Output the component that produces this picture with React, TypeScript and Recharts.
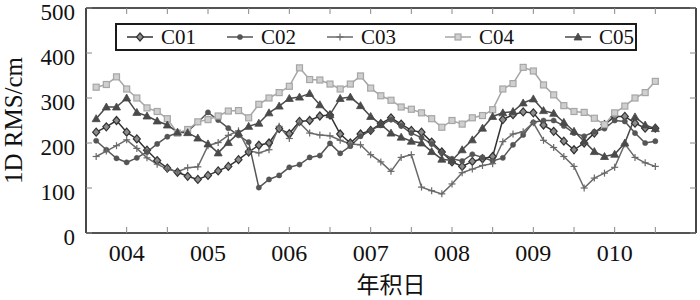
import React from 'react';
import { LineChart, Line, XAxis, YAxis, Legend } from 'recharts';

// Day of year (3-hour steps)
const days = [3.625, 3.75, 3.875, 4, 4.125, 4.25, 4.375, 4.5, 4.625, 4.75, 4.875, 5, 5.125, 5.25, 5.375, 5.5, 5.625, 5.75, 5.875, 6, 6.125, 6.25, 6.375, 6.5, 6.625, 6.75, 6.875, 7, 7.125, 7.25, 7.375, 7.5, 7.625, 7.75, 7.875, 8, 8.125, 8.25, 8.375, 8.5, 8.625, 8.75, 8.875, 9, 9.125, 9.25, 9.375, 9.5, 9.625, 9.75, 9.875, 10, 10.125, 10.25, 10.375, 10.5];

const c01 = [224, 236, 250, 224, 209, 184, 161, 144, 135, 126, 119, 128, 138, 148, 163, 180, 195, 200, 232, 221, 248, 250, 260, 262, 220, 200, 220, 228, 243, 256, 242, 228, 224, 202, 180, 158, 148, 159, 165, 170, 252, 263, 269, 267, 240, 226, 204, 185, 200, 222, 241, 259, 259, 244, 233, 233];
const c02 = [205, 185, 166, 157, 167, 180, 198, 214, 223, 226, 246, 268, 251, 233, 217, 202, 101, 119, 128, 146, 152, 168, 172, 199, 177, 193, 215, 228, 240, 252, 238, 222, 212, 198, 178, 165, 160, 175, 168, 160, 167, 196, 218, 246, 250, 250, 238, 222, 215, 225, 232, 250, 248, 222, 200, 204];
const c03 = [170, 182, 194, 207, 188, 167, 153, 142, 136, 145, 147, 194, 201, 217, 227, 183, 178, 185, 237, 210, 245, 222, 218, 216, 206, 198, 196, 174, 158, 137, 168, 174, 102, 94, 87, 109, 134, 142, 150, 154, 203, 220, 225, 245, 206, 190, 170, 148, 100, 122, 133, 146, 198, 168, 156, 148];
const c04 = [324, 330, 347, 320, 300, 278, 270, 254, 222, 230, 247, 252, 260, 271, 272, 256, 286, 300, 312, 326, 367, 341, 340, 331, 320, 331, 349, 322, 305, 295, 280, 275, 267, 254, 235, 250, 242, 256, 261, 274, 320, 332, 368, 360, 329, 307, 283, 270, 268, 255, 241, 267, 282, 300, 312, 337];
const c05 = [254, 280, 280, 300, 268, 260, 249, 240, 224, 223, 211, 198, 178, 201, 222, 237, 244, 267, 282, 299, 302, 310, 285, 263, 299, 302, 283, 259, 241, 222, 213, 204, 200, 181, 164, 161, 185, 207, 233, 259, 267, 270, 289, 298, 272, 266, 246, 226, 204, 181, 170, 175, 200, 258, 240, 232];

const xTicks = [4, 4.5, 5, 5.5, 6, 6.5, 7, 7.5, 8, 8.5, 9, 9.5, 10, 10.5];
const xLabelDays = [4, 5, 6, 7, 8, 9, 10];
const xLabels = ['004', '005', '006', '007', '008', '009', '010'];
const yTicks = [0, 100, 200, 300, 400, 500];

const seriesNames = ['C01', 'C02', 'C03', 'C04', 'C05'];
const seriesShapes = ['diamond', 'circle', 'plus', 'square', 'triangle'];
const seriesColors = ['#333333', '#555555', '#6a6a6a', '#a6a6a6', '#4a4a4a'];

const data = days.map((d, i) => ({ d, C01: c01[i], C02: c02[i], C03: c03[i], C04: c04[i], C05: c05[i] }));

const SERIF = '"Liberation Serif", "Times New Roman", serif';

function Marker({ shape, cx, cy, color }: any) {
  if (cx == null || cy == null) return null;
  switch (shape) {
    case 'diamond':
      return <path d={`M${cx},${cy - 4}L${cx + 3.5},${cy}L${cx},${cy + 4}L${cx - 3.5},${cy}Z`} fill="#8c8c8c" stroke={color} strokeWidth={1.2} />;
    case 'circle':
      return <circle cx={cx} cy={cy} r={2.6} fill={color} stroke={color} strokeWidth={0.5} />;
    case 'plus':
      return (
        <g>
          <line x1={cx - 3.5} y1={cy} x2={cx + 3.5} y2={cy} stroke={color} strokeWidth={1.2} />
          <line x1={cx} y1={cy - 3.5} x2={cx} y2={cy + 3.5} stroke={color} strokeWidth={1.2} />
        </g>
      );
    case 'square':
      return <rect x={cx - 3} y={cy - 3} width={6} height={6} fill="#cfcfcf" stroke={color} strokeWidth={1.2} />;
    case 'triangle':
      return <path d={`M${cx},${cy - 4}L${cx + 4},${cy + 3}L${cx - 4},${cy + 3}Z`} fill={color} stroke={color} strokeWidth={0.8} />;
    default:
      return null;
  }
}

const BottomTick = (props: any) => {
  const { x, y, payload } = props;
  const idx = xLabelDays.indexOf(payload.value);
  return (
    <g>
      <line x1={x} y1={y} x2={x} y2={y - 6} stroke="#888" strokeWidth={1} />
      {idx >= 0 && (
        <text x={x} y={y + 28} textAnchor="middle" fontSize={24} fontFamily={SERIF} fill="#111">
          {xLabels[idx]}
        </text>
      )}
    </g>
  );
};

const TopTick = (props: any) => {
  const { x, y } = props;
  return <line x1={x} y1={y} x2={x} y2={y + 6} stroke="#888" strokeWidth={1} />;
};

const LeftTick = (props: any) => {
  const { x, y, payload } = props;
  return (
    <g>
      <line x1={x} y1={y} x2={x + 6} y2={y} stroke="#888" strokeWidth={1} />
      <text x={x - 11} y={y + 12} textAnchor="end" fontSize={23} fontFamily={SERIF} fill="#111">
        {payload.value}
      </text>
    </g>
  );
};

const RightTick = (props: any) => {
  const { x, y } = props;
  return <line x1={x} y1={y} x2={x - 6} y2={y} stroke="#888" strokeWidth={1} />;
};

const legendLefts = [10, 110, 210, 328, 448];

const renderLegend = () => (
  <div
    style={{
      position: 'relative',
      width: 522,
      height: 28,
      border: '2px solid #1a1a1a',
      boxSizing: 'border-box',
      background: '#fff',
    }}
  >
    {seriesNames.map((name, i) => (
      <div
        key={name}
        style={{ position: 'absolute', left: legendLefts[i], top: 0, height: 24, display: 'flex', alignItems: 'center' }}
      >
        <svg width={26} height={12} style={{ display: 'block' }}>
          <line x1={0} y1={6} x2={26} y2={6} stroke={seriesColors[i]} strokeWidth={1.5} />
          <Marker shape={seriesShapes[i]} cx={13} cy={6} color={seriesColors[i]} />
        </svg>
        <span style={{ marginLeft: 8, fontFamily: SERIF, fontSize: 21, color: '#111', lineHeight: '24px' }}>{name}</span>
      </div>
    ))}
  </div>
);

const YTitle = (props: any) => {
  const vb = props.viewBox || {};
  const cy = (vb.y || 0) + (vb.height || 0) / 2;
  const cx = 22;
  return (
    <text x={cx} y={cy} transform={`rotate(-90 ${cx} ${cy})`} textAnchor="middle" fontSize={25} fontFamily={SERIF} fill="#111">
      1D RMS/cm
    </text>
  );
};

export default function App() {
  return (
    <div style={{ position: 'absolute', left: 0, top: 0, width: 700, height: 300, background: '#fff' }}>
      <LineChart width={700} height={300} data={data} margin={{ top: 7, right: 3, bottom: 0, left: 0 }}>
        <XAxis
          xAxisId="b"
          dataKey="d"
          type="number"
          domain={[3.5, 11]}
          allowDataOverflow
          ticks={xTicks}
          interval={0}
          height={67}
          tickSize={0}
          tickMargin={0}
          tickLine={false}
          axisLine={{ stroke: '#1a1a1a', strokeWidth: 1.6 }}
          tick={<BottomTick />}
          label={{ value: '年积日', position: 'insideBottom', offset: 7, fontSize: 23, fill: '#111', fontFamily: '"Noto Sans CJK SC", sans-serif' }}
        />
        <XAxis
          xAxisId="t"
          orientation="top"
          dataKey="d"
          type="number"
          domain={[3.5, 11]}
          allowDataOverflow
          ticks={xTicks}
          interval={0}
          height={1}
          tickSize={0}
          tickMargin={0}
          tickLine={false}
          axisLine={{ stroke: '#1a1a1a', strokeWidth: 1.6 }}
          tick={<TopTick />}
        />
        <YAxis
          yAxisId="l"
          type="number"
          domain={[0, 500]}
          ticks={yTicks}
          interval={0}
          width={86}
          tickSize={0}
          tickMargin={0}
          tickLine={false}
          axisLine={{ stroke: '#1a1a1a', strokeWidth: 1.6 }}
          tick={<LeftTick />}
          label={<YTitle />}
        />
        <YAxis
          yAxisId="r"
          orientation="right"
          type="number"
          domain={[0, 500]}
          ticks={yTicks}
          interval={0}
          width={1}
          tickSize={0}
          tickMargin={0}
          tickLine={false}
          axisLine={{ stroke: '#1a1a1a', strokeWidth: 1.6 }}
          tick={<RightTick />}
        />
        <Legend
          layout="horizontal"
          verticalAlign="middle"
          align="center"
          wrapperStyle={{ left: 115, top: 23, width: 522, height: 28 }}
          content={renderLegend}
        />
        {seriesNames.map((name, i) => (
          <Line
            key={name}
            xAxisId="b"
            yAxisId="l"
            type="linear"
            dataKey={name}
            name={name}
            stroke={seriesColors[i]}
            strokeWidth={1.5}
            isAnimationActive={false}
            dot={(p: any) => (
              <Marker key={`${name}-${p.index}`} shape={seriesShapes[i]} cx={p.cx} cy={p.cy} color={seriesColors[i]} />
            )}
            activeDot={false}
          />
        ))}
        <Line
          xAxisId="t"
          yAxisId="r"
          type="linear"
          dataKey="C04"
          stroke="none"
          strokeWidth={0}
          dot={false}
          activeDot={false}
          legendType="none"
          isAnimationActive={false}
        />
      </LineChart>
    </div>
  );
}
